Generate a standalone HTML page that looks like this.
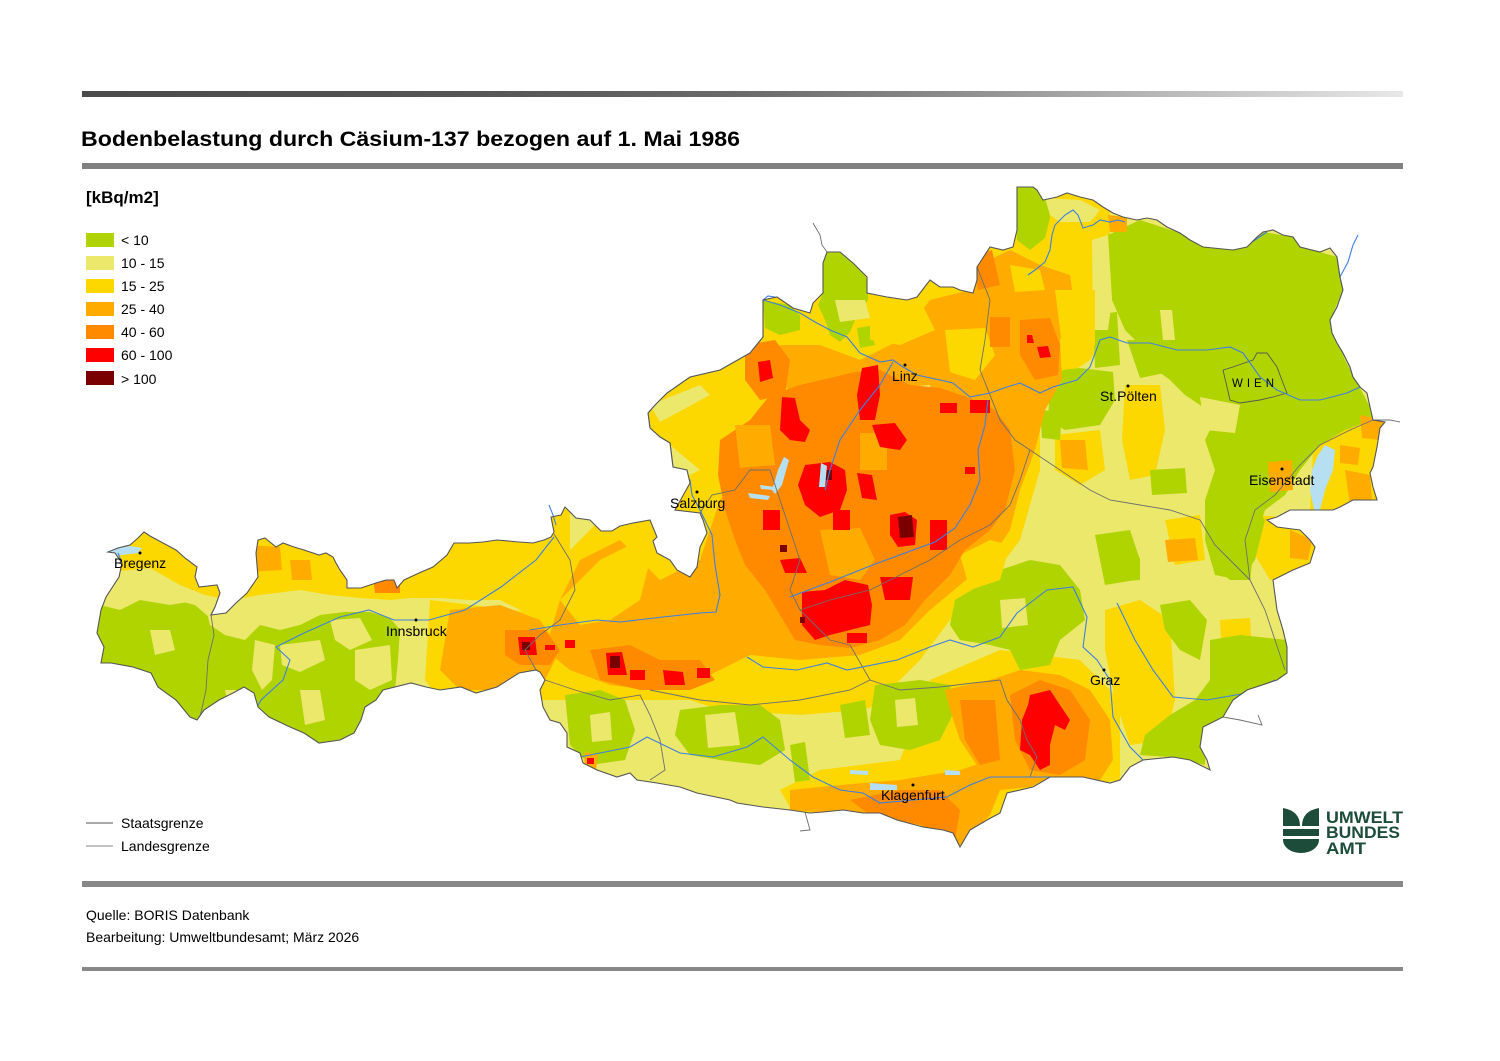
<!DOCTYPE html>
<html><head><meta charset="utf-8"><style>
html,body{margin:0;padding:0;background:#fff;}
svg{display:block;}
text{font-family:"Liberation Sans",Arial,Helvetica,sans-serif;}
</style></head><body>
<svg width="1500" height="1061" viewBox="0 0 1500 1061" xmlns="http://www.w3.org/2000/svg">
<defs>
<linearGradient id="tg" x1="0" x2="1" y1="0" y2="0">
<stop offset="0" stop-color="#4a4a4a"/><stop offset="0.3" stop-color="#555"/><stop offset="0.5" stop-color="#6a6a6a"/><stop offset="0.65" stop-color="#8a8a8a"/><stop offset="0.8" stop-color="#b3b3b3"/><stop offset="1" stop-color="#e8e8e8"/>
</linearGradient>
<clipPath id="at"><path id="outl" d="M108,552 L118,548 L130,545 L138,538 L144,532 L150,536 L163,543 L176,550 L185,558 L197,567 L195,577 L199,587 L217,585 L220,593 L215,607 L211,615 L226,613 L236,603 L247,593 L258,577 L256,553 L258,540 L265,538 L276,547 L283,543 L294,547 L304,550 L319,555 L326,553 L333,557 L336,563 L340,570 L347,580 L347,588 L361,588 L376,583 L386,580 L394,580 L397,588 L404,580 L419,573 L433,567 L447,555 L454,543 L469,543 L483,542 L497,540 L519,542 L533,543 L544,540 L551,537 L554,532 L551,517 L561,515 L565,507 L576,518 L590,520 L601,531 L612,531 L620,526 L633,523 L650,520 L657,537 L653,541 L657,553 L670,560 L677,570 L690,577 L697,567 L700,547 L707,533 L703,520 L700,513 L675,510 L690,483 L687,470 L673,467 L670,443 L660,437 L650,428 L648,413 L655,405 L667,393 L690,377 L720,370 L750,353 L763,337 L763,313 L763,300 L777,297 L793,308 L810,313 L813,303 L823,293 L823,263 L827,252 L840,252 L853,263 L867,277 L867,293 L887,297 L907,300 L917,297 L930,280 L940,287 L953,287 L960,290 L973,293 L977,280 L977,267 L990,247 L1003,250 L1013,247 L1017,230 L1017,187 L1033,187 L1037,190 L1043,200 L1057,197 L1067,193 L1080,197 L1093,200 L1103,207 L1113,213 L1123,217 L1137,220 L1147,218 L1157,220 L1167,227 L1180,233 L1190,240 L1203,247 L1233,250 L1247,247 L1257,237 L1263,232 L1273,230 L1283,235 L1293,237 L1300,247 L1320,252 L1330,248 L1337,257 L1340,277 L1343,290 L1337,307 L1330,320 L1332,333 L1337,343 L1343,353 L1350,367 L1353,377 L1360,387 L1367,393 L1370,407 L1373,420 L1385,422 L1380,428 L1377,447 L1373,467 L1370,473 L1373,487 L1377,500 L1353,500 L1340,507 L1333,510 L1290,510 L1277,517 L1267,520 L1277,527 L1300,530 L1310,540 L1315,547 L1310,563 L1293,570 L1273,580 L1277,610 L1283,630 L1287,647 L1287,673 L1277,680 L1247,690 L1233,700 L1223,717 L1203,727 L1200,747 L1207,760 L1210,770 L1190,760 L1173,757 L1143,760 L1130,767 L1120,780 L1110,783 L1083,777 L1050,777 L1033,787 L1007,793 L1000,813 L987,820 L970,830 L960,847 L953,833 L943,830 L923,827 L897,820 L880,813 L863,813 L843,810 L823,812 L810,813 L790,810 L763,807 L737,803 L730,800 L697,793 L680,787 L657,783 L637,780 L630,773 L617,777 L597,770 L583,763 L580,753 L567,747 L567,733 L560,723 L550,720 L543,707 L540,690 L545,680 L540,672 L536,670 L519,673 L497,687 L476,693 L461,687 L440,690 L426,687 L411,683 L383,690 L376,700 L365,707 L361,720 L354,733 L340,740 L319,743 L304,733 L290,727 L269,717 L258,707 L254,693 L244,687 L233,693 L219,700 L204,710 L197,720 L190,717 L176,700 L158,687 L151,673 L133,667 L111,663 L101,663 L104,647 L97,633 L101,610 L106,597 L119,577 L122,563 L115,553 Z"/></clipPath>
</defs>
<rect width="1500" height="1061" fill="#fff"/>

<!-- header -->
<rect x="82" y="91" width="1321" height="6" fill="url(#tg)"/>
<text x="81" y="146" font-size="21" font-weight="bold" fill="#000" textLength="659" lengthAdjust="spacingAndGlyphs">Bodenbelastung durch Cäsium-137 bezogen auf 1. Mai 1986</text>
<rect x="82" y="163" width="1321" height="6" fill="#808080"/>

<!-- legend -->
<text x="86" y="203" font-size="17" font-weight="bold" fill="#000">[kBq/m2]</text>
<rect x="86" y="233" width="28" height="14" fill="#b0d400"/>
<rect x="86" y="256" width="28" height="14" fill="#ebe86c"/>
<rect x="86" y="279" width="28" height="14" fill="#fcd800"/>
<rect x="86" y="302" width="28" height="14" fill="#ffab00"/>
<rect x="86" y="325" width="28" height="14" fill="#ff8a00"/>
<rect x="86" y="348" width="28" height="14" fill="#ff0000"/>
<rect x="86" y="371" width="28" height="14" fill="#7a0000"/>
<g font-size="14" fill="#000">
<text x="121" y="245">&lt; 10</text>
<text x="121" y="268">10 - 15</text>
<text x="121" y="291">15 - 25</text>
<text x="121" y="314">25 - 40</text>
<text x="121" y="337">40 - 60</text>
<text x="121" y="360">60 - 100</text>
<text x="121" y="384">&gt; 100</text>
</g>

<!-- map -->
<g clip-path="url(#at)">
<rect x="80" y="170" width="1340" height="700" fill="#ebe86c"/>
<g fill="#fcd800">
<polygon points="95,500 570,500 570,610 530,615 500,600 470,600 440,598 410,598 390,600 360,598 330,595 300,590 260,595 230,600 205,595 180,585 150,568 110,572 95,570"/>
<polygon points="430,600 530,612 560,560 600,520 700,470 640,420 700,360 760,300 830,240 1000,180 1110,190 1110,330 1090,360 1060,380 1040,420 1040,470 1020,540 990,580 950,620 920,660 880,700 820,710 760,700 700,700 640,700 600,700 560,700 520,700 440,700 425,680"/>
<polygon points="930,680 1000,650 1080,660 1120,700 1120,780 1050,790 1000,820 960,850 930,840 870,825 800,825 780,790 820,770 900,760"/>
<polygon points="1315,405 1400,410 1395,515 1310,515"/>
<polygon points="1255,515 1320,520 1320,575 1270,580 1255,555"/>
<polygon points="1105,610 1140,600 1170,620 1175,700 1165,740 1130,745 1115,700 1105,650"/>
<polygon points="1125,385 1160,385 1165,430 1155,475 1130,480 1122,440"/>
<polygon points="1055,435 1100,430 1105,470 1080,485 1055,470"/>
<polygon points="700,660 880,650 900,700 860,710 800,715 720,710 690,700"/>
<polygon points="1165,520 1200,515 1205,560 1175,565"/>
<polygon points="1220,620 1250,618 1252,652 1222,655"/>
</g>
<!-- green -->
<g fill="#b0d400">
<polygon points="95,600 125,598 150,595 175,600 195,605 210,618 230,625 260,625 280,630 300,625 320,615 345,612 370,612 390,618 400,630 398,660 395,690 380,700 360,740 300,760 200,740 150,700 95,680"/>
<polygon points="763,300 790,305 800,315 800,330 780,335 765,328"/>
<polygon points="823,250 845,252 868,280 868,300 855,320 850,332 840,342 830,335 825,320 818,305 823,293"/>
<polygon points="857,328 870,326 875,345 860,348"/>
<polygon points="1017,187 1035,187 1048,200 1050,218 1045,238 1030,250 1017,240"/>
<polygon points="1108,235 1140,220 1180,233 1203,247 1233,250 1263,232 1293,237 1320,252 1337,257 1343,290 1330,320 1345,360 1370,407 1372,420 1345,430 1320,445 1300,470 1285,495 1265,510 1255,540 1250,580 1230,580 1212,565 1205,530 1205,500 1215,470 1205,440 1215,420 1200,405 1185,395 1170,380 1150,365 1140,345 1125,330 1112,300"/>
<polygon points="1093,315 1117,312 1120,365 1095,368"/>
<polygon points="1063,370 1080,368 1113,372 1115,400 1100,425 1065,430 1048,420 1050,385"/>
<polygon points="1127,340 1175,340 1180,370 1140,378"/>
<polygon points="1150,470 1185,468 1187,493 1152,495"/>
<polygon points="1207,505 1250,500 1265,520 1255,560 1240,580 1215,575 1205,540"/>
<polygon points="1210,640 1240,635 1287,640 1290,680 1250,690 1225,715 1205,730 1205,765 1170,757 1140,755 1145,735 1170,715 1195,700 1210,680"/>
<polygon points="1160,605 1190,600 1207,620 1200,660 1180,650 1165,630"/>
<polygon points="955,600 980,585 1000,570 1030,560 1060,565 1080,590 1085,620 1060,640 1050,665 1020,670 1010,650 990,645 960,640 950,625"/>
<polygon points="1095,535 1130,530 1140,560 1135,580 1105,585"/>
<polygon points="1107,560 1140,558 1140,580 1110,582"/>
<polygon points="565,695 600,690 625,700 635,730 625,760 590,765 570,745"/>
<polygon points="680,710 720,705 760,705 780,720 785,750 760,765 720,760 690,755 675,735"/>
<polygon points="875,685 920,680 950,685 955,710 940,740 910,750 880,745 870,720"/>
<polygon points="840,705 865,700 870,735 845,738"/>
<polygon points="790,745 805,742 810,780 795,782"/>
<polygon points="1040,410 1062,412 1060,440 1042,438"/>
</g>
<!-- light yellow patches over green -->
<g fill="#ebe86c">
<polygon points="100,575 150,575 185,590 200,600 170,605 140,600 120,610 100,605"/>
<polygon points="205,605 250,600 260,625 245,640 225,635 210,625"/>
<polygon points="255,640 275,645 272,680 262,690 252,670"/>
<polygon points="280,645 320,640 325,660 300,672 282,665"/>
<polygon points="330,620 360,618 372,640 350,650 335,640"/>
<polygon points="355,650 390,645 392,680 370,690 355,680"/>
<polygon points="300,690 320,690 325,720 305,725"/>
<polygon points="150,630 170,630 175,650 155,655"/>
<polygon points="225,690 245,690 250,710 230,712"/>
<polygon points="705,715 735,712 740,745 708,748"/>
<polygon points="1160,310 1172,310 1175,340 1163,340"/>
<polygon points="1045,198 1080,200 1100,210 1090,222 1060,222 1050,215"/>
<polygon points="1092,240 1108,235 1112,300 1108,330 1093,330"/>
<polygon points="1200,397 1240,405 1235,433 1205,430"/>
<polygon points="590,715 610,712 612,740 592,742"/>
<polygon points="895,700 915,698 918,725 897,727"/>
<polygon points="1000,600 1025,598 1028,625 1002,628"/>
</g>
<!-- orange 25-40 -->
<g fill="#ffab00">
<polygon points="560,600 580,560 620,540 660,580 700,560 720,500 740,470 720,440 760,420 790,390 760,370 780,345 820,345 860,360 900,340 930,300 970,290 985,262 1010,250 1040,265 1070,275 1075,310 1060,340 1062,380 1045,410 1035,450 1020,490 1010,530 990,560 960,585 930,610 900,640 860,655 800,660 750,655 720,670 690,685 650,690 610,685 570,670 545,650"/>
<polygon points="945,690 990,680 1020,670 1060,675 1090,690 1110,720 1113,760 1100,780 1050,777 1030,787 1000,790 980,770 960,740 950,710"/>
<polygon points="790,790 840,785 900,780 960,770 990,760 1000,790 990,815 960,845 940,830 880,815 820,812 790,810"/>
<polygon points="450,610 500,605 540,620 560,650 545,680 500,690 460,690 440,670"/>
<polygon points="245,545 280,547 282,570 250,572"/>
<polygon points="290,560 310,560 312,580 292,580"/>
<polygon points="1360,415 1385,420 1380,440 1362,438"/>
<polygon points="1345,470 1370,475 1372,500 1350,505"/>
<polygon points="1340,445 1360,448 1358,465 1340,463"/>
<polygon points="1290,530 1312,540 1308,560 1290,558"/>
<polygon points="1165,540 1195,538 1198,560 1168,562"/>
<polygon points="1268,462 1292,460 1293,490 1270,492"/>
<polygon points="1060,440 1085,440 1088,470 1062,468"/>
<polygon points="585,752 598,755 596,770 584,768"/>
<polygon points="1108,215 1127,217 1127,232 1110,232"/>
</g>
<!-- yellow / light patches over orange -->
<g fill="#fcd800">
<polygon points="650,400 690,380 730,370 760,350 770,340 760,380 740,400 720,420 700,440 680,450 660,440"/>
<polygon points="560,600 600,560 630,545 650,560 640,600 610,620 580,625"/>
<polygon points="960,555 990,540 1010,545 1000,580 970,590"/>
<polygon points="870,300 920,300 935,330 900,345 870,340"/>
<polygon points="1010,265 1040,270 1045,290 1015,292"/>
<polygon points="1055,290 1095,290 1095,345 1062,345"/>
<polygon points="945,330 985,328 995,355 975,380 950,372"/>
</g>
<g fill="#ebe86c">
<polygon points="650,405 700,385 710,395 660,422"/>
<polygon points="905,387 930,385 935,410 910,415"/>
<polygon points="835,300 865,300 870,318 840,322"/>
</g>
<!-- orange 40-60 -->
<g fill="#ff8a00">
<polygon points="720,440 750,420 770,395 800,385 830,378 855,372 880,370 910,385 940,388 970,398 995,410 1010,430 1015,470 1005,510 990,530 965,550 950,575 925,600 905,625 880,640 850,648 820,645 795,640 780,615 765,590 745,565 735,540 725,510 718,475"/>
<polygon points="745,345 775,340 790,360 785,395 760,400 745,380"/>
<polygon points="1020,320 1050,318 1060,345 1058,375 1035,380 1020,355"/>
<polygon points="973,255 992,250 1000,285 978,290"/>
<polygon points="505,630 545,630 560,650 550,665 520,665 505,655"/>
<polygon points="590,650 630,645 660,660 700,660 715,680 690,690 640,690 600,680"/>
<polygon points="1010,695 1040,680 1070,690 1090,720 1085,760 1060,775 1030,770 1015,740"/>
<polygon points="960,700 995,700 1000,760 980,765 965,740"/>
<polygon points="850,800 900,790 940,790 960,810 955,840 920,825 870,815"/>
<polygon points="373,577 400,577 400,593 375,593"/>
<polygon points="990,317 1010,317 1010,347 990,347"/>
</g>
<g fill="#ffab00">
<polygon points="820,530 860,528 875,560 860,580 830,575"/>
<polygon points="860,433 887,433 887,470 860,470"/>
<polygon points="735,425 770,425 775,465 740,468"/>
</g>
<!-- red -->
<g fill="#ff0000">
<polygon points="758,362 770,360 773,378 760,382"/>
<polygon points="782,397 795,398 800,420 810,430 805,442 790,440 780,430"/>
<polygon points="862,368 878,365 880,395 875,420 860,420 857,395"/>
<polygon points="872,425 895,423 907,440 900,450 880,447"/>
<rect x="940" y="403" width="17" height="10"/>
<rect x="970" y="400" width="20" height="13"/>
<polygon points="805,465 830,462 845,470 847,490 840,510 820,517 805,505 798,485"/>
<rect x="763" y="510" width="17" height="20"/>
<rect x="833" y="510" width="17" height="20"/>
<polygon points="857,473 872,475 877,500 862,498"/>
<polygon points="890,515 905,512 917,520 915,545 898,547 890,535"/>
<rect x="930" y="520" width="17" height="30"/>
<rect x="965" y="467" width="10" height="7"/>
<polygon points="780,560 800,558 807,573 785,573"/>
<polygon points="802,592 825,590 845,580 868,585 872,605 870,625 850,630 830,635 815,640 802,625"/>
<polygon points="880,577 913,577 910,600 885,600"/>
<rect x="847" y="633" width="20" height="10"/>
<polygon points="518,637 535,637 537,655 520,655"/>
<rect x="545" y="645" width="10" height="5"/>
<rect x="565" y="640" width="10" height="8"/>
<polygon points="606,653 622,652 627,675 608,675"/>
<rect x="630" y="670" width="15" height="10"/>
<polygon points="663,670 683,672 685,685 665,685"/>
<rect x="697" y="668" width="13" height="10"/>
<polygon points="1027,335 1032,335 1034,343 1027,343"/>
<polygon points="1037,347 1048,346 1051,357 1040,358"/>
<polygon points="1030,695 1050,690 1060,705 1070,720 1065,730 1055,725 1050,745 1050,765 1040,770 1030,755 1020,750 1022,720 1028,705"/>
<rect x="587" y="758" width="7" height="6"/>
</g>
<g fill="#7a0000">
<rect x="823" y="470" width="9" height="10"/>
<polygon points="898,517 912,515 914,537 900,538"/>
<rect x="780" y="545" width="7" height="7"/>
<rect x="800" y="617" width="5" height="6"/>
<rect x="522" y="642" width="8" height="8"/>
<rect x="610" y="656" width="10" height="12"/>
</g>
<!-- lakes -->
<g fill="#b6e0f2">
<polygon points="105,553 112,548 130,546 142,548 138,553 115,556"/>
<polygon points="784,457 789,460 782,485 775,494 772,490 778,470"/>
<polygon points="821,463 827,466 825,487 819,487"/>
<polygon points="748,493 770,496 768,500 750,498"/>
<polygon points="760,485 775,487 774,490 761,489"/>
<polygon points="1325,445 1335,450 1333,470 1325,490 1320,510 1314,510 1310,490 1312,470 1318,455"/>
<polygon points="870,783 897,785 897,790 870,790"/>
<polygon points="850,770 868,771 868,775 850,774"/>
<polygon points="945,770 960,771 960,775 945,775"/>
</g>
<!-- state borders -->
<g fill="none" stroke="#6e6e6e" stroke-width="0.9">
<polyline points="211,615 214,635 208,660 206,690 200,717"/>
<polyline points="554,534 570,560 575,590 560,620 540,635 525,650 536,670"/>
<polyline points="545,680 575,690 610,700 640,695 650,715 660,740 665,770 650,780"/>
<polyline points="700,513 712,495 735,490 750,470 770,470 780,500 790,530 800,560 790,590 800,610"/>
<polyline points="800,610 830,640 850,645 870,680 900,690 940,687 973,683 1000,680 1007,700 1020,720 1027,740 1037,757 1030,777"/>
<polyline points="650,690 700,700 750,705 800,700 850,690 870,680"/>
<polyline points="800,610 830,600 870,590 900,575 930,560 960,540 990,525 1010,505 1020,480 1030,450"/>
<polyline points="977,267 990,300 985,340 980,370 990,395 1000,420 1015,440 1030,450"/>
<polyline points="1030,450 1060,470 1090,490 1110,500 1140,505 1170,510 1200,520 1215,545 1230,560 1250,580"/>
<polyline points="1250,580 1245,540 1255,510 1275,495 1300,465 1320,445 1350,430 1373,420"/>
<polyline points="1250,580 1265,610 1275,640 1285,670"/>
</g>
<polygon points="1223,370 1233,367 1253,360 1257,353 1267,353 1277,367 1283,383 1287,393 1273,397 1260,400 1240,403 1230,400 1227,387" fill="none" stroke="#555" stroke-width="0.9"/>
<!-- rivers -->
<g fill="none" stroke="#3f7fe0" stroke-width="1.1">
<polyline points="763,300 780,305 800,313 815,322 830,330 847,337 860,353 880,362 893,360 903,367 917,375 940,380 953,383 970,397 990,393 1007,387 1020,383 1040,393 1053,387 1077,380 1090,367 1100,340 1110,337 1127,343 1150,343 1177,350 1207,350 1230,347 1243,353 1260,377 1277,390 1300,400 1320,400 1347,393 1360,387"/>
<polyline points="763,300 763,337 750,353 720,370 690,377 667,393 655,405 648,413"/>
<polyline points="648,413 650,428 660,437 670,443 673,467 690,480 692,495 700,510 712,535 715,565 720,595 716,612 700,613 663,617 620,622 597,620 560,625 530,630"/>
<polyline points="554,537 536,560 501,587 465,610 429,620 394,620 369,610 340,617 304,633 276,647 290,660 283,680 261,700 254,713"/>
<polyline points="94,625 100,612 105,597 112,585 119,575 122,563 118,553"/>
<polyline points="790,597 830,582 870,566 905,553 935,542 955,528 970,505 980,480 978,450 985,425 988,400"/>
<polyline points="825,490 830,470 840,440 860,410 880,385 893,362"/>
<polyline points="747,657 763,667 797,670 827,663 847,670 897,660 930,647 950,640 973,647 1000,637 1017,613 1047,590 1073,587 1087,617 1083,647 1097,660 1110,680 1113,717 1130,747 1143,760 1173,757 1207,770"/>
<polyline points="1117,603 1135,640 1153,670 1173,697 1207,700 1247,693 1275,680"/>
<polyline points="580,757 630,747 647,737 680,753 713,757 747,747 763,737 790,760 813,777 840,790 863,793 880,803 913,800 947,797 970,785 990,777 1023,777 1050,777"/>
<polyline points="1337,257 1340,277 1343,290 1337,307 1330,320 1332,333 1337,343 1343,353 1350,367 1353,377 1360,387"/>
<polyline points="1028,275 1035,270 1045,262 1050,250 1052,235 1055,225 1065,215 1073,210 1078,215 1083,228 1093,225 1100,220 1110,222 1118,220 1125,222"/>
<polyline points="1157,220 1170,228 1180,233"/>
<polyline points="1243,248 1255,240 1267,232"/>
</g>
</g>
<!-- outside lines -->
<g fill="none" stroke="#6e6e6e" stroke-width="0.9">
<polyline points="813,223 820,235 822,245 827,252"/>
<polyline points="1373,420 1390,420 1400,422"/>
<polyline points="1223,717 1240,720 1262,725 1258,715"/>
<polyline points="805,812 810,830 800,831"/>
</g>
<g fill="none" stroke="#3f7fe0" stroke-width="1.1">
<polyline points="1340,277 1348,262 1353,245 1358,235"/>
<polyline points="549,505 553,515 556,525"/>
<polyline points="763,300 768,296 775,297"/>
</g>
<use href="#outl" fill="none" stroke="#555" stroke-width="1.1"/>

<!-- cities -->
<g fill="#000">
<circle cx="905" cy="365" r="1.5"/><circle cx="1128" cy="386" r="1.5"/><circle cx="1282" cy="469" r="1.5"/>
<circle cx="697" cy="492" r="1.5"/><circle cx="140" cy="553" r="1.5"/><circle cx="416" cy="620" r="1.5"/>
<circle cx="1104" cy="670" r="1.5"/><circle cx="913" cy="785" r="1.5"/>
</g>
<g font-size="14" fill="#000">
<text x="892" y="381">Linz</text>
<text x="1100" y="401">St.Pölten</text>
<text x="1232" y="387" font-size="11.5" letter-spacing="4">WIEN</text>
<text x="1249" y="485">Eisenstadt</text>
<text x="670" y="508">Salzburg</text>
<text x="114" y="568">Bregenz</text>
<text x="386" y="636">Innsbruck</text>
<text x="1090" y="685">Graz</text>
<text x="881" y="800">Klagenfurt</text>
</g>

<!-- line legend -->
<line x1="86" y1="823" x2="113" y2="823" stroke="#555" stroke-width="1"/>
<line x1="86" y1="846" x2="113" y2="846" stroke="#8a8a8a" stroke-width="1"/>
<text x="121" y="828" font-size="14" fill="#000">Staatsgrenze</text>
<text x="121" y="851" font-size="14" fill="#000">Landesgrenze</text>

<!-- logo -->
<g fill="#1d4d3a">
<path d="M1283,808 Q1300,811 1300,826 L1283,826 Z"/>
<path d="M1319,808 Q1302,811 1302,826 L1319,826 Z"/>
<rect x="1283" y="829" width="36" height="7"/>
<path d="M1283,839 L1319,839 L1319,840 A18,13 0 0 1 1283,840 Z"/>
</g>
<g font-size="16.5" font-weight="bold" fill="#1d4d3a">
<text x="1326" y="823" textLength="77" lengthAdjust="spacingAndGlyphs">UMWELT</text>
<text x="1326" y="838" textLength="74" lengthAdjust="spacingAndGlyphs">BUNDES</text>
<text x="1326" y="854" textLength="40" lengthAdjust="spacingAndGlyphs">AMT</text>
</g>

<!-- footer -->
<rect x="82" y="881" width="1321" height="6" fill="#888"/>
<text x="86" y="920" font-size="14" fill="#000">Quelle: BORIS Datenbank</text>
<text x="86" y="942" font-size="14" fill="#000">Bearbeitung: Umweltbundesamt; März 2026</text>
<rect x="82" y="967" width="1321" height="4" fill="#888"/>
</svg>
</body></html>
